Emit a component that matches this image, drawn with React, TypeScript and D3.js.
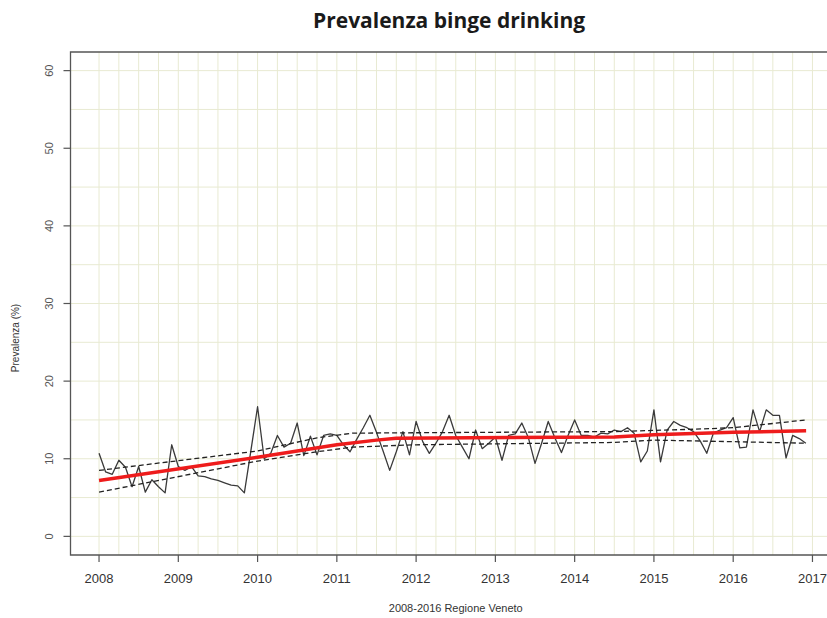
import React from "react";
import * as d3 from "d3";

const yearTicks = [2008, 2009, 2010, 2011, 2012, 2013, 2014, 2015, 2016, 2017];
const yTicks = [0, 10, 20, 30, 40, 50, 60];

// Monthly prevalence (%), Jan 2008 - Dec 2016
const prevalence2008 = [10.7, 8.3, 8.0, 9.8, 8.9, 6.4, 9.0, 5.7, 7.3, 6.4, 5.6, 11.8];
const prevalence2009 = [9.0, 8.5, 9.0, 7.8, 7.7, 7.4, 7.2, 6.9, 6.6, 6.5, 5.6, 11.1];
const prevalence2010 = [16.7, 10.0, 10.7, 13.0, 11.5, 12.0, 14.6, 10.4, 12.9, 10.5, 13.0, 13.2];
const prevalence2011 = [13.0, 11.8, 10.9, 12.5, 14.0, 15.6, 13.4, 11.0, 8.5, 10.9, 13.5, 10.5];
const prevalence2012 = [14.8, 12.2, 10.7, 12.0, 13.5, 15.6, 13.0, 11.5, 10.0, 13.7, 11.3, 12.0];
const prevalence2013 = [12.8, 9.8, 13.0, 13.2, 14.6, 12.7, 9.4, 12.0, 14.8, 12.7, 10.8, 13.0];
const prevalence2014 = [15.0, 13.0, 13.0, 12.8, 13.3, 13.2, 13.7, 13.5, 14.0, 13.3, 9.6, 11.0];
const prevalence2015 = [16.3, 9.6, 13.7, 14.8, 14.3, 14.0, 13.5, 12.3, 10.7, 13.3, 13.7, 14.0];
const prevalence2016 = [15.3, 11.4, 11.5, 16.3, 13.5, 16.3, 15.6, 15.6, 10.1, 13.0, 12.6, 12.0];

// Fitted trend and confidence band knots [decimal year, value]
const trendKnots: [number, number][] = [
  [2008, 7.2], [2010, 10.2], [2010.5, 11.0], [2011, 11.8], [2011.5, 12.4],
  [2011.75, 12.65], [2014.5, 12.8], [2015, 13.1], [2016, 13.4], [2016.92, 13.6],
];
const upperKnots: [number, number][] = [
  [2008, 8.5], [2010, 11.0], [2010.75, 12.7], [2011.2, 13.3], [2014.5, 13.5],
  [2015.5, 13.8], [2016, 14.0], [2016.92, 15.0],
];
const lowerKnots: [number, number][] = [
  [2008, 5.7], [2010, 9.7], [2010.75, 10.9], [2011.2, 11.5], [2012, 11.8],
  [2014.5, 12.1], [2015, 12.4], [2016, 12.2], [2016.92, 12.0],
];

const W = 827;
const H = 618;
const L = 70.5, R = 841, T = 52, B = 555;

export default function App() {
  const x = d3.scaleLinear().domain([2007.64, 2017.36]).range([L, R]);
  const y = d3.scaleLinear().domain([-2.4, 62.4]).range([B, T]);

  const all = [
    ...prevalence2008, ...prevalence2009, ...prevalence2010, ...prevalence2011,
    ...prevalence2012, ...prevalence2013, ...prevalence2014, ...prevalence2015, ...prevalence2016,
  ];
  const series: [number, number][] = all.map((v, i) => [2008 + i / 12, v]);

  const line = d3.line<[number, number]>().x((d) => x(d[0])).y((d) => y(d[1]));

  const hGrid = d3.range(0, 61, 5);
  const vGrid = d3.range(2008, 2017.01, 0.25);

  const gridColor = "#e8ead2";
  const axisColor = "#555";

  return (
    <svg
      width={W}
      height={H}
      style={{ position: "absolute", left: 0, top: 0, background: "#fff" }}
      fontFamily="'Liberation Sans', Arial, sans-serif"
    >
      <rect x={0} y={0} width={W} height={H} fill="#fff" />
      {hGrid.map((g) => (
        <line key={"h" + g} x1={L} x2={R} y1={y(g)} y2={y(g)} stroke={gridColor} strokeWidth={1} />
      ))}
      {vGrid.map((g) => (
        <line key={"v" + g} x1={x(g)} x2={x(g)} y1={T} y2={B} stroke={gridColor} strokeWidth={1} />
      ))}

      {/* data */}
      <path d={line(series) || ""} fill="none" stroke="#3a3a3a" strokeWidth={1.3} strokeLinejoin="round" />
      <path d={line(upperKnots) || ""} fill="none" stroke="#222" strokeWidth={1.3} strokeDasharray="5,3" />
      <path d={line(lowerKnots) || ""} fill="none" stroke="#222" strokeWidth={1.3} strokeDasharray="5,3" />
      <path d={line(trendKnots) || ""} fill="none" stroke="#ee1c1c" strokeWidth={3.5} strokeLinejoin="round" />

      {/* box */}
      <path d={`M${R},${T} H${L} V${B} H${R}`} fill="none" stroke={axisColor} strokeWidth={1.3} />

      {/* y axis */}
      {yTicks.map((t) => (
        <g key={"yt" + t}>
          <line x1={L - 7} x2={L} y1={y(t)} y2={y(t)} stroke={axisColor} strokeWidth={1.2} />
          <text
            transform={`translate(53,${y(t)}) rotate(-90)`}
            textAnchor="middle"
            fontSize={11}
            fill="#555"
          >
            {t}
          </text>
        </g>
      ))}

      {/* x axis */}
      {yearTicks.map((t) => (
        <g key={"xt" + t}>
          <line x1={x(t)} x2={x(t)} y1={B} y2={B + 7} stroke={axisColor} strokeWidth={1.2} />
          <text x={x(t)} y={583} textAnchor="middle" fontSize={13} fill="#333">
            {t}
          </text>
        </g>
      ))}

      <text x={(L + R) / 2} y={612} textAnchor="middle" fontSize={11} fill="#333">
        2008-2016 Regione Veneto
      </text>
      <text transform={`translate(19,338) rotate(-90)`} textAnchor="middle" fontSize={10} fill="#333">
        Prevalenza (%)
      </text>

      <text x={313} y={28} fontFamily="'Open Sans', sans-serif" fontWeight="bold" fontSize={21} fill="#1a1a1a">
        Prevalenza binge drinking
      </text>
    </svg>
  );
}
